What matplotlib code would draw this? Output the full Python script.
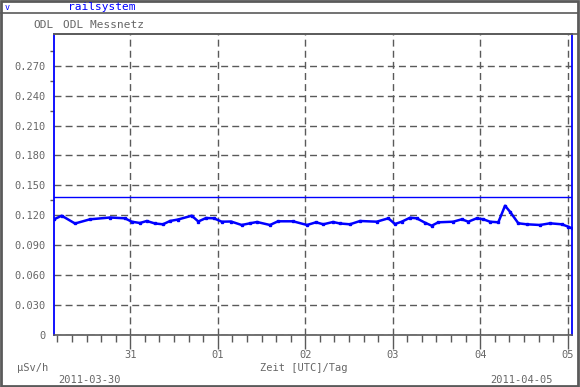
import matplotlib
matplotlib.use("Agg")
import matplotlib.pyplot as plt
from matplotlib.lines import Line2D
from matplotlib.patches import Rectangle
import numpy as np

# ---- data ----
hours = [-20.93, -18.82, -15.17, -11.06, -5.57, -1.45, 0.38, 2.66, 4.50, 6.78,
         8.97, 10.89, 13.09, 16.85, 18.66, 20.77, 22.96, 25.08, 27.63, 30.56,
         32.84, 34.76, 38.33, 40.52, 44.64, 48.48, 50.95, 52.95, 55.61, 57.53,
         60.27, 63.02, 67.60, 70.78, 72.62, 74.46, 76.74, 78.57, 80.85, 82.69,
         84.50, 88.61, 90.92, 92.73, 95.03, 96.85, 98.68, 100.96, 102.80, 104.17,
         106.45, 108.75, 112.40, 115.14, 118.35, 120.17, 121.10]
dose = [0.1160, 0.1196, 0.1118, 0.1160, 0.1178, 0.1170, 0.1136, 0.1123, 0.1143, 0.1118,
        0.1110, 0.1143, 0.1158, 0.1196, 0.1138, 0.1173, 0.1170, 0.1136, 0.1138, 0.1103,
        0.1120, 0.1133, 0.1103, 0.1140, 0.1140, 0.1103, 0.1130, 0.1110, 0.1133, 0.1118,
        0.1110, 0.1143, 0.1136, 0.1170, 0.1113, 0.1136, 0.1176, 0.1170, 0.1126, 0.1096,
        0.1130, 0.1136, 0.1160, 0.1136, 0.1170, 0.1160, 0.1136, 0.1130, 0.1296, 0.1236,
        0.1120, 0.1110, 0.1103, 0.1120, 0.1110, 0.1086, 0.1070]
threshold = 0.138
day_labels = ["31", "01", "02", "03", "04", "05"]
y_ticks = [0, 0.030, 0.060, 0.090, 0.120, 0.150, 0.180, 0.210, 0.240, 0.270]
y_tick_labels = ["0", "0.030", "0.060", "0.090", "0.120", "0.150", "0.180", "0.210", "0.240", "0.270"]
y_minor = [0.135, 0.225, 0.255, 0.285]

W, H = 580, 387
GRAY = "#5a5a5a"
TXT = "#666666"
BLUE = "#0000ff"
plt.rcParams['font.family'] = ['DejaVu Sans Mono']

fig = plt.figure(figsize=(W / 100, H / 100), dpi=100)

def fx(px):
    return px / W

def fy(py):
    return 1 - py / H

L, R, T, B = 54, 572, 34, 335
ax = fig.add_axes([fx(L), fy(B), fx(R - L), fy(T) - fy(B)])

days = np.array(hours) / 24.0
ax.plot(days, dose, color=BLUE, lw=1.8, marker='s', ms=1.6, zorder=5)
ax.axhline(threshold, color=BLUE, lw=1.0, zorder=4)

ax.set_xlim(-0.8722, 5.049)
ax.set_ylim(0, 0.3018)

ax.set_xticks(range(len(day_labels)))
ax.set_xticklabels(day_labels)
ax.set_xticks(np.arange(-5, 6 * 5 + 1) / 6.0, minor=True)
ax.set_yticks(y_ticks)
ax.set_yticklabels(y_tick_labels)
ax.set_yticks(y_minor, minor=True)

ax.tick_params(axis='x', which='major', direction='out', length=10, width=1,
               color=GRAY, labelcolor=TXT, labelsize=7.5, pad=1)
ax.tick_params(axis='x', which='minor', direction='out', length=5, width=1, color=GRAY)
ax.tick_params(axis='y', which='major', length=0, labelcolor=TXT, labelsize=7.5, pad=6)
ax.tick_params(axis='y', which='minor', direction='out', length=3, width=1, color=GRAY)

ax.grid(True, which='major', color=GRAY, linestyle=(0, (5, 3)), lw=1)
ax.set_axisbelow(True)

for s in ['left', 'right']:
    ax.spines[s].set_color(BLUE)
    ax.spines[s].set_linewidth(1.3)
for s in ['top', 'bottom']:
    ax.spines[s].set_color(GRAY)
    ax.spines[s].set_linewidth(1.2)

# frame and decorations
fig.add_artist(Rectangle((fx(1), fy(386)), fx(577), fy(1) - fy(386), fill=False,
                         edgecolor=GRAY, lw=2, transform=fig.transFigure))
fig.add_artist(Line2D([fx(1), fx(578)], [fy(13), fy(13)], color=GRAY, lw=1.2,
                      transform=fig.transFigure))
fig.add_artist(Line2D([fx(L), fx(578)], [fy(T), fy(T)], color=GRAY, lw=1.2,
                      transform=fig.transFigure))

fig.text(fx(5), fy(7), "v", color=BLUE, fontsize=6, va='center', ha='left')
fig.text(fx(68), fy(7), "railsystem", color=BLUE, fontsize=8, va='center', ha='left')
fig.text(fx(33), fy(25), "ODL", color=TXT, fontsize=8, va='center', ha='left')
fig.text(fx(63), fy(25), "ODL Messnetz", color=TXT, fontsize=8, va='center', ha='left')
fig.text(fx(17), fy(368), "µSv/h", color=TXT, fontsize=7.5, va='center', ha='left')
fig.text(fx(304), fy(368), "Zeit [UTC]/Tag", color=TXT, fontsize=7.5, va='center', ha='center')
fig.text(fx(58), fy(380), "2011-03-30", color=TXT, fontsize=7.5, va='center', ha='left')
fig.text(fx(553), fy(380), "2011-04-05", color=TXT, fontsize=7.5, va='center', ha='right')

fig.savefig("out.png", dpi=100)
